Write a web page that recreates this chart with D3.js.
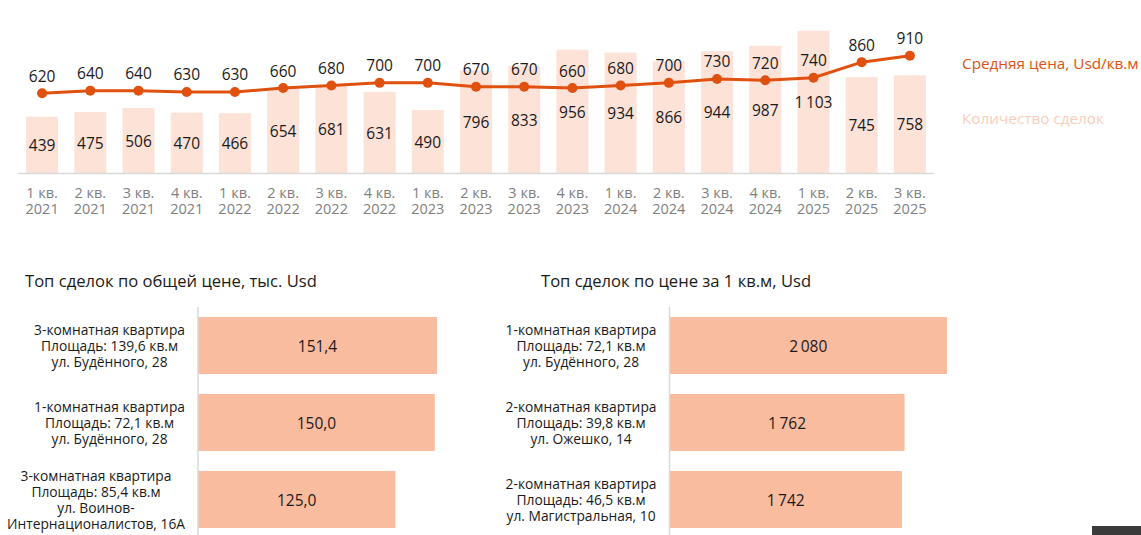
<!DOCTYPE html>
<html><head><meta charset="utf-8">
<script src="https://cdn.jsdelivr.net/npm/d3@7/dist/d3.min.js"></script>
<style>
html,body{margin:0;padding:0;background:#fff;}
svg{display:block;font-family:"Open Sans",sans-serif;}
</style></head>
<body><svg id="c" width="1141" height="535"></svg>
<script>
const quarters = ["1 кв.","2 кв.","3 кв.","4 кв.","1 кв.","2 кв.","3 кв.","4 кв.","1 кв.","2 кв.","3 кв.","4 кв.","1 кв.","2 кв.","3 кв.","4 кв.","1 кв.","2 кв.","3 кв."];
const years = ["2021","2021","2021","2021","2022","2022","2022","2022","2023","2023","2023","2023","2024","2024","2024","2024","2025","2025","2025"];
const dealCount = [439,475,506,470,466,654,681,631,490,796,833,956,934,866,944,987,1103,745,758];
const avgPrice = [620,640,640,630,630,660,680,700,700,670,670,660,680,700,730,720,740,860,910];
const legendLabels = ["Средняя цена, Usd/кв.м","Количество сделок"];

const totalTitle = "Топ сделок по общей цене, тыс. Usd";
const totalLabels = [
  ["3-комнатная квартира","Площадь: 139,6 кв.м","ул. Будённого, 28"],
  ["1-комнатная квартира","Площадь: 72,1 кв.м","ул. Будённого, 28"],
  ["3-комнатная квартира","Площадь: 85,4 кв.м","ул. Воинов-","Интернационалистов, 16А"]
];
const totalValues = [151.4,150.0,125.0];

const sqmTitle = "Топ сделок по цене за 1 кв.м, Usd";
const sqmLabels = [
  ["1-комнатная квартира","Площадь: 72,1 кв.м","ул. Будённого, 28"],
  ["2-комнатная квартира","Площадь: 39,8 кв.м","ул. Ожешко, 14"],
  ["2-комнатная квартира","Площадь: 46,5 кв.м","ул. Магистральная, 10"]
];
const sqmValues = [2080,1762,1742];

const C_LINE="#E0500E", C_BAR="#FDE2D8", C_HBAR="#FABC9F", C_LEG2="#FBCDBA", C_AX="#7F7F7F";
const svg = d3.select("#c");

// ---------- top combo chart ----------
const idx = d3.range(dealCount.length);
const x = d3.scaleBand().domain(idx).range([18,934]).paddingInner(0.335).paddingOuter(0.1675);
const y = d3.scaleLinear().domain([0,1340]).range([173.5,0]);
const gTop = svg.append("g");
gTop.selectAll("rect.b").data(idx).join("rect")
  .attr("x",i=>x(i)).attr("width",x.bandwidth())
  .attr("y",i=>y(dealCount[i])).attr("height",i=>y(0)-y(dealCount[i]))
  .attr("fill",C_BAR);
gTop.append("line").attr("x1",18).attr("x2",934).attr("y1",y(0)).attr("y2",y(0))
  .attr("stroke","#D9D9D9").attr("stroke-width",1.5);
gTop.selectAll("text.bv").data(idx).join("text")
  .attr("x",i=>x(i)+x.bandwidth()/2).attr("y",i=>(y(dealCount[i])+y(0))/2)
  .attr("text-anchor","middle").attr("dominant-baseline","central")
  .attr("font-size",15.5).attr("fill","#1a1a1a")
  .text(i=>d3.format(",")(dealCount[i]).replace(/,/g,"\u2009"));
const cx = i=>x(i)+x.bandwidth()/2;
gTop.append("path").datum(idx)
  .attr("d",d3.line().x(cx).y(i=>y(avgPrice[i])))
  .attr("fill","none").attr("stroke",C_LINE).attr("stroke-width",3);
gTop.selectAll("circle").data(idx).join("circle")
  .attr("cx",cx).attr("cy",i=>y(avgPrice[i])).attr("r",5).attr("fill",C_LINE);
gTop.selectAll("text.pv").data(idx).join("text")
  .attr("x",cx).attr("y",i=>y(avgPrice[i])-17.5)
  .attr("text-anchor","middle").attr("dominant-baseline","central")
  .attr("font-size",15.5).attr("fill","#1a1a1a").text(i=>avgPrice[i]);
gTop.selectAll("text.xq").data(idx).join("text")
  .attr("x",cx).attr("y",192).attr("dominant-baseline","central")
  .attr("text-anchor","middle").attr("font-size",14.5).attr("fill",C_AX).text(i=>quarters[i]);
gTop.selectAll("text.xy").data(idx).join("text")
  .attr("x",cx).attr("y",208.5).attr("dominant-baseline","central")
  .attr("text-anchor","middle").attr("font-size",14.5).attr("fill",C_AX).text(i=>years[i]);
// legend
gTop.append("text").attr("x",962).attr("y",62.5).attr("dominant-baseline","central")
  .attr("font-size",15.3).attr("fill",C_LINE).text(legendLabels[0]);
gTop.append("text").attr("x",962).attr("y",117.5).attr("dominant-baseline","central")
  .attr("font-size",15.3).attr("fill",C_LEG2).text(legendLabels[1]);

// ---------- horizontal bar panels ----------
function panel(title, titleX, labels, values, x0, maxV, pxMax){
  const g = svg.append("g");
  g.append("text").attr("x",titleX).attr("y",280.5).attr("dominant-baseline","central")
    .attr("font-size",16.6).attr("fill","#1a1a1a").text(title);
  const yb = d3.scaleBand().domain(d3.range(values.length)).range([307,538]).paddingInner(0.26).paddingOuter(0.13);
  const xs = d3.scaleLinear().domain([0,maxV]).range([x0,x0+pxMax]);
  g.selectAll("rect").data(values).join("rect")
    .attr("x",x0).attr("y",(d,i)=>yb(i)).attr("height",yb.bandwidth())
    .attr("width",d=>xs(d)-x0).attr("fill",C_HBAR);
  g.append("line").attr("x1",x0).attr("x2",x0).attr("y1",307).attr("y2",535)
    .attr("stroke","#D9D9D9").attr("stroke-width",1.5);
  g.selectAll("text.v").data(values).join("text")
    .attr("x",d=>(x0+xs(d))/2).attr("y",(d,i)=>yb(i)+yb.bandwidth()/2)
    .attr("text-anchor","middle").attr("dominant-baseline","central")
    .attr("font-size",15.5).attr("fill","#1a1a1a")
    .text(d=> maxV<1000 ? d3.format(".1f")(d).replace(".",",") : d3.format(",")(d).replace(/,/g,"\u2009"));
  labels.forEach((lines,i)=>{
    const t = g.append("text").attr("text-anchor","middle").attr("font-size",13.8).attr("fill","#1a1a1a");
    const mid = yb(i)+yb.bandwidth()/2;
    const ts = lines.map((s,k)=>t.append("tspan").attr("y",mid+(k-(lines.length-1)/2)*16)
      .attr("dominant-baseline","central").text(s));
    const w = d3.max(ts,s=>s.node().getComputedTextLength());
    ts.forEach(s=>s.attr("x",x0-13-w/2));
  });
}
panel(totalTitle,25,totalLabels,totalValues,198,151.4,239);
panel(sqmTitle,541,sqmLabels,sqmValues,669.5,2080,277.5);

// dark corner element
svg.append("rect").attr("x",1092).attr("y",526).attr("width",49).attr("height",9).attr("fill","#3A3A3A");
</script></body></html>
